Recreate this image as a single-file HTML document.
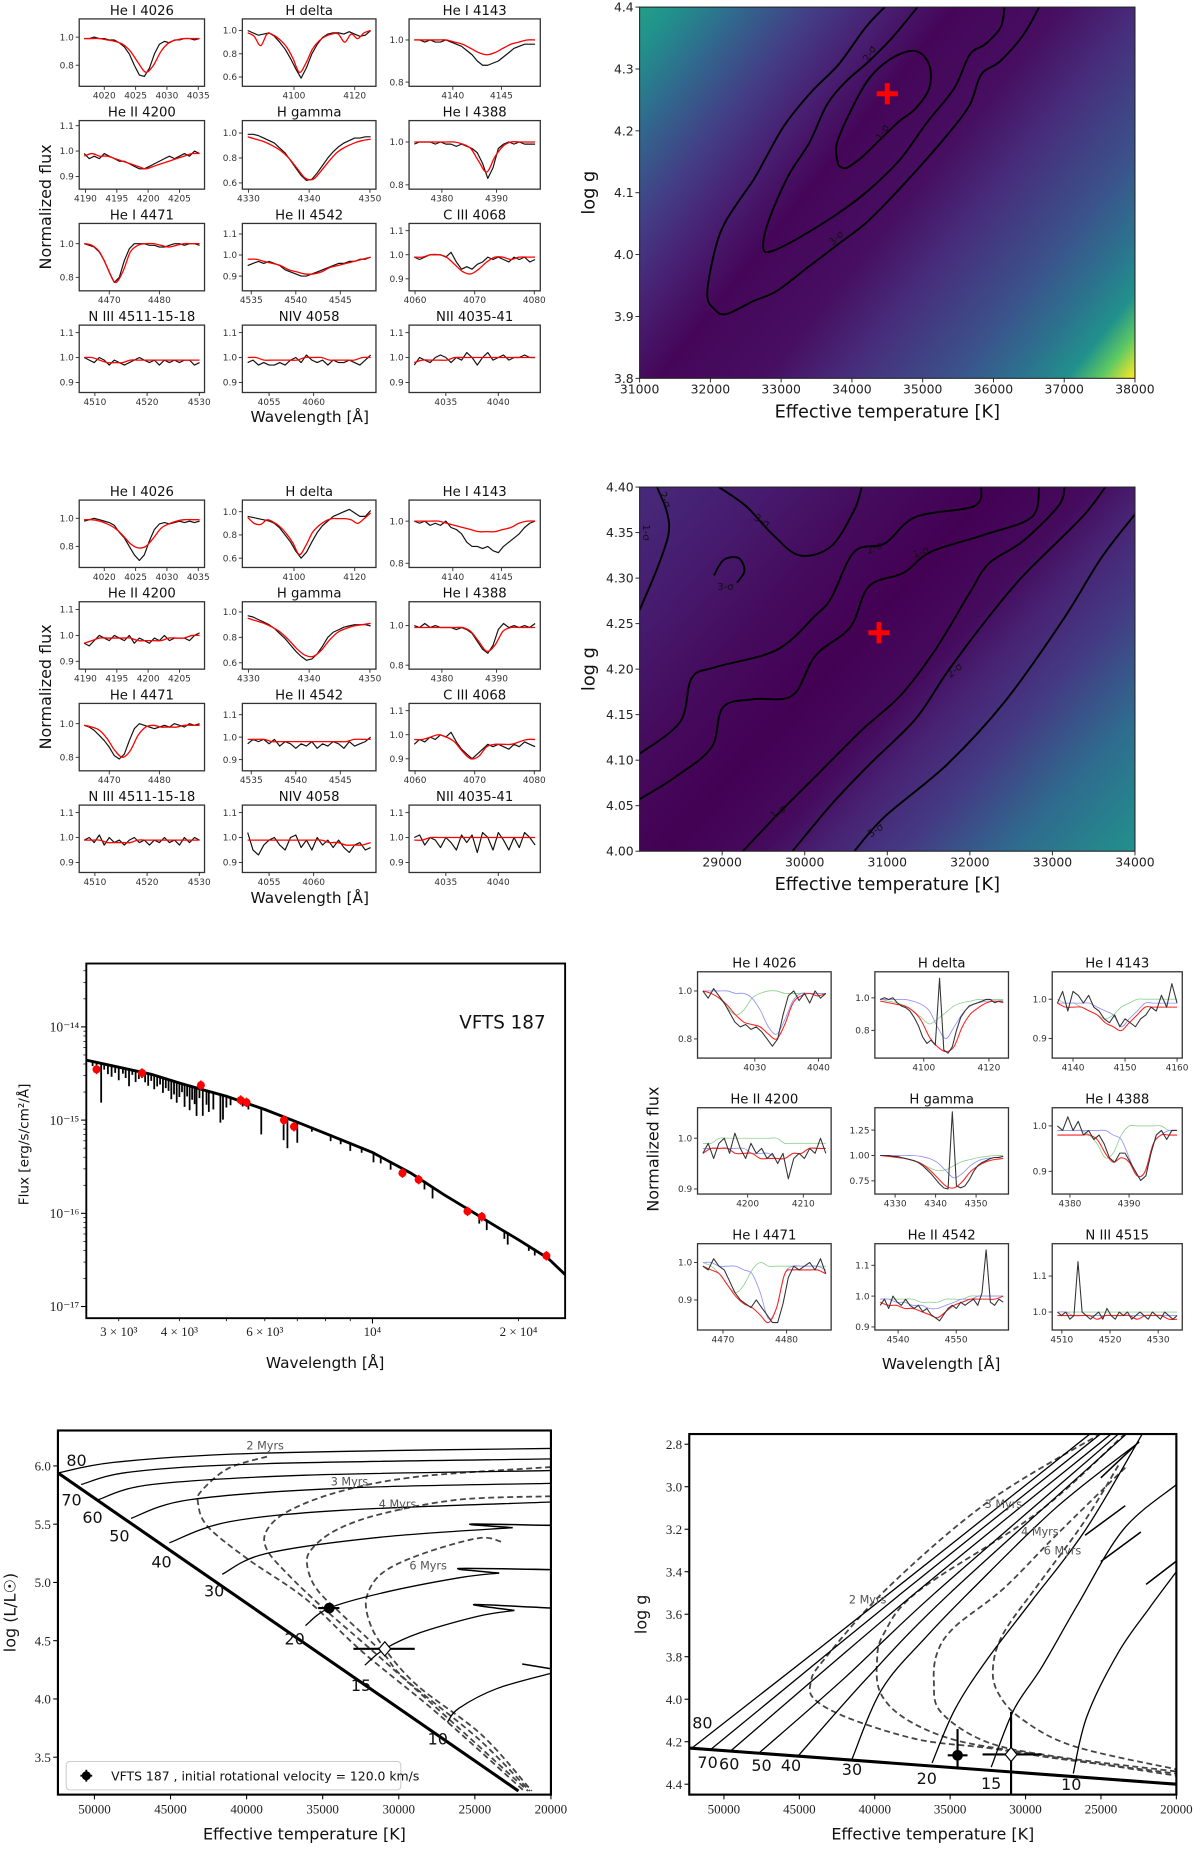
<!DOCTYPE html>
<html><head><meta charset="utf-8"><style>
html,body{margin:0;padding:0;background:#fff;}
svg{display:block;}
text{font-family:"DejaVu Sans","Liberation Sans",sans-serif;}
.serif{font-family:"Liberation Serif","DejaVu Serif",serif;}
</style></head><body>
<svg id="fig" xmlns="http://www.w3.org/2000/svg" width="1200" height="1849" viewBox="0 0 1015 1564" preserveAspectRatio="none">
<defs>
<linearGradient id="hm1" gradientUnits="userSpaceOnUse" x1="520" y1="0" x2="943" y2="339">
<stop offset="0" stop-color="#23a983"/><stop offset="0.08" stop-color="#21918c"/><stop offset="0.16" stop-color="#31688e"/><stop offset="0.25" stop-color="#433e85"/><stop offset="0.33" stop-color="#482173"/><stop offset="0.42" stop-color="#450659"/><stop offset="0.55" stop-color="#470e61"/><stop offset="0.65" stop-color="#472d7b"/><stop offset="0.78" stop-color="#3b528b"/><stop offset="0.86" stop-color="#2c728e"/><stop offset="0.92" stop-color="#21918c"/><stop offset="0.96" stop-color="#5ec962"/><stop offset="1" stop-color="#fde725"/>
</linearGradient>
<linearGradient id="hm2" gradientUnits="userSpaceOnUse" x1="541" y1="412" x2="924" y2="759">
<stop offset="0" stop-color="#472a7a"/><stop offset="0.15" stop-color="#461b6e"/><stop offset="0.3" stop-color="#450a5c"/><stop offset="0.43" stop-color="#440154"/><stop offset="0.55" stop-color="#450b5d"/><stop offset="0.62" stop-color="#482273"/><stop offset="0.72" stop-color="#443a83"/><stop offset="0.85" stop-color="#2f6b8e"/><stop offset="1" stop-color="#21918c"/>
</linearGradient>
</defs>
</svg>
<script>
// ================= DATA =================
const a1Obs=[0.99,0.99,1.0,0.99,0.99,0.98,0.98,0.96,0.93,0.88,0.8,0.73,0.72,0.78,0.88,0.95,0.97,0.96,0.98,0.98,0.99,0.99,0.98,0.99];
const a1Mod=[0.99,0.99,0.99,0.98,0.97,0.95,0.9,0.82,0.75,0.8,0.9,0.96,0.98,0.99,0.99,0.99];
const a2Obs=[1.0,0.98,0.96,0.97,0.98,0.95,0.9,0.84,0.76,0.67,0.59,0.68,0.8,0.88,0.94,0.97,0.98,0.98,0.97,0.99,0.97,0.95,0.96,1.0];
const a2Mod=[0.98,0.95,0.87,0.97,0.96,0.92,0.86,0.76,0.64,0.72,0.84,0.91,0.95,0.97,0.97,0.9,0.97,0.93,0.98,1.0];
const a3Obs=[1.0,1.0,0.99,1.0,0.99,0.99,1.0,0.99,0.98,0.97,0.95,0.93,0.9,0.88,0.88,0.89,0.9,0.92,0.94,0.96,0.97,0.98,0.98,0.98];
const a3Mod=[1.0,1.0,1.0,1.0,1.0,0.99,0.98,0.96,0.94,0.93,0.94,0.96,0.98,0.99,1.0,1.0];
const a4Obs=[0.99,0.97,0.98,0.97,0.99,0.98,0.97,0.96,0.96,0.95,0.94,0.93,0.93,0.94,0.95,0.96,0.97,0.98,0.97,0.98,0.99,0.98,1.0,0.99];
const a4Mod=[0.98,0.99,0.98,0.98,0.97,0.96,0.95,0.94,0.93,0.94,0.95,0.96,0.97,0.98,0.99,0.99];
const a5Obs=[0.99,0.99,0.98,0.96,0.94,0.92,0.88,0.84,0.78,0.72,0.66,0.62,0.63,0.68,0.74,0.8,0.85,0.89,0.92,0.94,0.96,0.96,0.97,0.97];
const a5Mod=[0.97,0.95,0.93,0.9,0.86,0.8,0.72,0.64,0.63,0.7,0.78,0.85,0.89,0.92,0.94,0.95];
const a6Obs=[0.99,1.0,1.0,1.0,0.99,1.0,0.99,0.99,0.98,0.99,0.98,0.97,0.95,0.9,0.83,0.88,0.97,0.99,1.0,0.99,1.0,0.99,0.99,0.99];
const a6Mod=[1.0,1.0,1.0,1.0,1.0,1.0,0.99,0.97,0.91,0.86,0.93,0.98,1.0,1.0,1.0,1.0];
const a7Obs=[1.0,0.99,0.98,0.95,0.9,0.83,0.77,0.8,0.9,0.97,1.0,1.0,1.0,0.99,0.99,0.98,0.98,0.99,1.0,1.0,0.99,1.0,1.0,0.99];
const a7Mod=[1.0,0.99,0.95,0.86,0.77,0.83,0.95,0.99,1.0,1.0,0.99,0.98,0.99,1.0,1.0,1.0];
const a8Obs=[0.95,0.96,0.97,0.96,0.97,0.96,0.95,0.93,0.92,0.91,0.9,0.9,0.91,0.92,0.93,0.94,0.95,0.96,0.96,0.97,0.97,0.98,0.98,0.99];
const a8Mod=[0.98,0.98,0.97,0.96,0.95,0.93,0.92,0.91,0.91,0.92,0.94,0.95,0.96,0.97,0.98,0.99];
const a9Obs=[0.99,0.98,0.99,1.0,1.0,1.0,0.99,1.01,0.97,0.94,0.95,0.94,0.96,0.97,0.99,0.98,0.99,0.98,0.97,0.99,0.98,0.99,0.97,0.98];
const a9Mod=[0.99,0.99,1.0,1.0,0.99,0.96,0.93,0.92,0.94,0.97,0.99,0.99,0.98,0.99,0.99,0.99];
const a10Obs=[1.0,0.99,0.98,1.0,0.99,0.97,0.99,0.98,0.97,0.98,0.99,1.0,0.99,0.98,0.99,0.97,0.99,0.98,0.99,0.98,0.99,0.99,0.97,0.98];
const a10Mod=[1.0,1.0,0.99,0.98,0.98,0.98,0.99,0.99,0.99,0.99,0.99,0.99,0.99,0.99,0.99,0.99];
const a11Obs=[0.98,0.99,0.97,0.98,0.97,0.97,0.98,0.97,0.99,1.0,0.98,1.01,0.99,0.98,0.99,0.97,0.99,0.98,0.98,0.99,0.98,0.97,0.99,1.01];
const a11Mod=[1.0,1.0,0.99,0.99,0.99,0.99,0.99,1.0,1.0,1.0,0.99,0.99,0.99,0.99,1.0,1.0];
const a12Obs=[0.97,1.0,0.99,0.98,1.0,1.01,1.0,0.98,1.0,0.99,1.02,1.0,0.97,1.0,1.02,0.99,1.0,1.01,0.99,1.0,1.0,1.01,1.0,1.0];
const a12Mod=[0.98,0.99,0.99,0.99,0.99,1.0,1.0,1.0,1.0,1.0,1.0,1.0,1.0,1.0,1.0,1.0];
const c1Obs=[0.98,0.99,1.0,0.99,0.98,0.97,0.95,0.9,0.86,0.8,0.74,0.7,0.74,0.84,0.92,0.96,0.97,0.96,0.97,0.98,0.97,0.98,0.97,0.98];
const c1Mod=[0.99,0.99,0.98,0.96,0.93,0.88,0.82,0.79,0.8,0.86,0.93,0.96,0.98,0.99,0.99,0.99];
const c2Obs=[0.96,0.95,0.94,0.93,0.92,0.9,0.86,0.8,0.74,0.66,0.6,0.65,0.74,0.82,0.88,0.92,0.96,0.98,1.0,1.02,0.99,0.96,0.96,1.01];
const c2Mod=[0.95,0.9,0.89,0.93,0.91,0.87,0.81,0.73,0.63,0.71,0.82,0.88,0.92,0.94,0.94,0.94,0.93,0.9,0.94,0.99];
const c3Obs=[1.0,0.99,1.0,0.98,0.99,0.98,1.0,0.97,0.96,0.94,0.9,0.88,0.88,0.87,0.88,0.86,0.85,0.88,0.9,0.92,0.94,0.97,0.99,1.0];
const c3Mod=[1.0,1.0,1.0,1.0,0.99,0.98,0.97,0.96,0.95,0.95,0.95,0.96,0.97,0.99,1.0,1.0];
const c4Obs=[0.97,0.96,0.98,1.0,0.99,0.98,1.0,0.99,0.98,1.0,0.97,0.99,0.98,0.97,0.99,0.98,1.0,0.98,0.99,0.99,0.99,0.98,1.0,1.01];
const c4Mod=[0.97,0.98,0.99,0.99,0.99,0.99,0.99,0.98,0.98,0.98,0.98,0.99,0.99,0.99,1.0,1.0];
const c5Obs=[0.97,0.96,0.94,0.92,0.9,0.87,0.83,0.79,0.74,0.69,0.65,0.62,0.63,0.67,0.73,0.8,0.84,0.86,0.88,0.89,0.9,0.9,0.9,0.89];
const c5Mod=[0.95,0.93,0.91,0.88,0.84,0.78,0.71,0.66,0.65,0.7,0.78,0.84,0.87,0.89,0.9,0.91];
const c6Obs=[1.0,0.99,1.01,0.99,1.0,0.99,0.99,0.99,0.98,0.99,0.98,0.96,0.92,0.88,0.86,0.9,0.98,1.01,0.99,1.0,0.99,1.0,0.99,1.01];
const c6Mod=[0.99,0.99,0.99,0.99,0.99,0.99,0.99,0.97,0.92,0.87,0.9,0.97,0.99,0.99,0.99,0.99];
const c7Obs=[0.99,0.98,0.96,0.93,0.9,0.86,0.81,0.79,0.82,0.9,0.97,1.0,0.99,0.98,0.97,0.98,0.99,0.98,1.0,0.99,0.98,1.0,0.99,1.0];
const c7Mod=[0.99,0.98,0.96,0.91,0.84,0.8,0.84,0.93,0.98,0.99,0.98,0.98,0.98,0.99,0.99,0.99];
const c8Obs=[0.97,0.99,0.98,0.99,0.97,0.99,0.96,0.98,0.97,0.95,0.97,0.96,0.98,0.95,0.97,0.96,0.98,0.97,0.95,0.98,0.96,0.97,0.98,1.0];
const c8Mod=[0.99,0.99,0.99,0.98,0.98,0.98,0.98,0.98,0.98,0.98,0.98,0.98,0.98,0.99,0.99,0.99];
const c9Obs=[0.96,0.98,0.97,0.99,0.98,1.0,0.99,1.01,0.97,0.94,0.92,0.9,0.92,0.94,0.96,0.95,0.96,0.95,0.94,0.96,0.95,0.97,0.96,0.95];
const c9Mod=[0.98,0.98,0.99,1.0,0.99,0.97,0.93,0.9,0.91,0.95,0.96,0.96,0.96,0.97,0.98,0.98];
const c10Obs=[0.99,1.0,0.98,1.01,0.97,1.0,0.98,0.99,0.97,0.99,1.0,0.98,0.99,0.97,0.99,0.98,1.0,0.98,0.99,0.97,1.0,0.98,1.0,0.99];
const c10Mod=[0.99,0.99,0.99,0.98,0.98,0.98,0.98,0.99,0.99,0.99,0.99,0.99,0.99,0.99,0.99,0.99];
const c11Obs=[1.02,0.95,0.93,0.97,0.99,1.0,0.97,0.95,1.0,1.01,0.96,0.99,0.95,1.0,0.97,0.99,0.96,0.99,0.96,0.94,0.97,0.98,0.95,0.96];
const c11Mod=[0.99,0.99,0.99,0.99,0.99,0.99,0.99,0.99,0.99,0.99,0.98,0.98,0.97,0.97,0.97,0.98];
const c12Obs=[1.0,1.01,0.97,1.0,0.99,0.96,1.0,0.98,0.95,1.01,0.98,1.01,0.94,1.02,1.0,0.95,1.02,0.99,0.95,1.0,0.96,1.02,1.0,0.97];
const c12Mod=[0.99,0.99,1.0,1.0,1.0,1.0,1.0,1.0,1.0,1.0,1.0,1.0,1.0,1.0,1.0,1.0];
const f1Obs=[1.0,0.97,1.01,0.98,0.95,0.91,0.87,0.85,0.86,0.84,0.85,0.83,0.8,0.77,0.8,0.9,0.98,1.0,0.96,0.99,0.95,1.0,0.97,0.99];
const f1Red=[1.0,0.99,0.97,0.94,0.9,0.87,0.86,0.85,0.82,0.8,0.86,0.95,0.98,0.99,0.98,0.99];
const f1Blue=[1.0,1.0,1.0,1.0,0.99,0.99,0.97,0.92,0.85,0.82,0.88,0.96,0.99,0.99,0.99,0.99];
const f1Green=[1.0,0.99,0.97,0.93,0.9,0.92,0.97,0.99,1.0,1.0,0.99,0.99,0.99,0.99,0.99,0.99];
const f2Obs=[0.99,1.0,0.99,1.0,0.97,0.95,0.94,0.92,0.88,0.83,0.76,0.72,0.74,0.71,1.12,0.68,0.66,0.7,0.8,0.88,0.92,0.95,0.96,0.97,0.98,0.99,0.99,0.97,0.98,0.98];
const f2Red=[0.98,0.97,0.96,0.95,0.92,0.86,0.76,0.7,0.67,0.7,0.82,0.9,0.94,0.97,0.98,0.97];
const f2Blue=[0.99,0.99,0.99,0.99,0.98,0.96,0.92,0.82,0.75,0.82,0.9,0.95,0.97,0.98,0.98,0.98];
const f2Green=[0.99,0.98,0.97,0.95,0.92,0.88,0.84,0.87,0.91,0.95,0.97,0.98,0.99,0.99,0.99,0.99];
const f3Obs=[0.99,1.02,0.97,1.02,1.01,0.99,1.01,0.98,0.97,0.95,0.94,0.96,0.93,0.95,0.94,0.93,0.95,0.96,0.98,0.97,1.01,0.98,1.04,0.99];
const f3Red=[0.99,0.98,0.98,0.98,0.97,0.96,0.94,0.93,0.92,0.94,0.96,0.98,0.98,0.98,0.98,0.98];
const f3Blue=[0.99,0.99,0.99,0.99,0.99,0.98,0.97,0.96,0.93,0.95,0.97,0.99,0.99,0.99,0.99,0.99];
const f3Green=[1.0,0.99,0.99,0.98,0.97,0.96,0.95,0.96,0.98,0.99,1.0,1.0,1.0,1.0,1.0,1.0];
const f4Obs=[0.97,0.99,0.96,0.99,1.0,0.97,1.01,0.98,0.96,0.99,0.97,0.98,0.96,0.97,0.95,0.97,0.92,0.96,0.97,0.96,0.98,0.97,1.0,0.97];
const f4Red=[0.97,0.98,0.98,0.98,0.97,0.97,0.97,0.96,0.96,0.96,0.96,0.97,0.97,0.98,0.98,0.98];
const f4Blue=[0.98,0.98,0.98,0.98,0.98,0.98,0.97,0.97,0.97,0.96,0.96,0.97,0.97,0.98,0.98,0.98];
const f4Green=[0.99,0.99,1.0,1.0,1.0,1.0,1.0,1.0,1.0,1.0,0.99,0.99,0.99,0.99,0.99,0.99];
const f5Obs=[1.0,1.0,1.0,0.99,0.99,0.98,0.97,0.96,0.95,0.93,0.9,0.86,0.82,0.77,0.72,0.68,0.67,1.43,0.7,0.68,0.7,0.76,0.84,0.9,0.93,0.95,0.97,0.98,0.98,0.99];
const f5Red=[1.0,0.99,0.98,0.97,0.95,0.92,0.86,0.78,0.7,0.68,0.74,0.84,0.9,0.94,0.96,0.97];
const f5Blue=[1.0,1.0,1.0,1.0,1.0,0.99,0.97,0.93,0.85,0.78,0.82,0.9,0.95,0.97,0.98,0.99];
const f5Green=[1.0,1.0,0.99,0.97,0.95,0.92,0.88,0.85,0.86,0.9,0.94,0.96,0.98,0.99,1.0,1.0];
const f6Obs=[1.0,0.99,1.02,0.99,1.01,0.98,0.99,0.97,0.98,0.96,0.93,0.92,0.94,0.94,0.92,0.9,0.88,0.89,0.94,0.98,0.99,0.97,0.99,0.99];
const f6Red=[0.98,0.98,0.98,0.98,0.98,0.97,0.94,0.92,0.93,0.92,0.89,0.9,0.96,0.98,0.98,0.98];
const f6Blue=[0.99,0.99,0.99,0.99,0.99,0.99,0.99,0.98,0.97,0.93,0.89,0.9,0.96,0.98,0.99,0.99];
const f6Green=[0.99,0.99,0.99,0.99,0.98,0.96,0.93,0.94,0.98,1.0,1.0,1.0,1.0,1.0,0.99,0.99];
const f7Obs=[0.99,0.98,1.01,0.99,0.98,0.95,0.92,0.9,0.89,0.88,0.9,0.88,0.86,0.84,0.84,0.89,0.96,0.99,0.98,0.99,1.0,0.98,1.01,0.97];
const f7Red=[0.99,0.98,0.97,0.94,0.91,0.89,0.88,0.86,0.84,0.88,0.97,0.98,0.98,0.98,0.98,0.97];
const f7Blue=[1.0,1.0,0.99,0.99,0.99,0.98,0.97,0.92,0.85,0.88,0.97,0.99,0.99,0.99,0.99,0.98];
const f7Green=[1.0,0.99,0.97,0.94,0.92,0.94,0.98,1.0,0.99,0.99,0.99,0.99,0.99,0.99,0.99,0.99];
const f8Obs=[0.97,0.99,0.96,1.0,0.98,0.97,0.99,0.97,0.96,0.97,0.95,0.96,0.94,0.93,0.92,0.94,0.96,0.97,0.96,0.98,0.97,0.98,0.99,0.97,1.01,1.15,0.98,0.97,0.99,0.98];
const f8Red=[0.98,0.97,0.97,0.96,0.96,0.95,0.94,0.93,0.95,0.97,0.98,0.99,0.99,0.99,0.99,1.0];
const f8Blue=[0.99,0.99,0.98,0.98,0.97,0.97,0.96,0.96,0.97,0.98,0.99,0.99,1.0,1.0,1.0,1.0];
const f8Green=[0.99,0.99,0.99,0.99,0.99,0.98,0.98,0.98,0.99,0.99,0.99,1.0,1.0,1.0,1.0,1.0];
const f9Obs=[1.0,0.99,1.0,0.98,0.99,1.14,1.0,0.99,0.98,0.99,1.0,0.98,1.01,0.99,0.98,1.0,0.99,1.0,0.98,0.99,1.0,0.99,0.98,1.0,0.99,0.98,1.0,0.99,0.98,0.99];
const f9Red=[0.99,0.99,0.99,0.99,0.99,0.98,0.99,0.99,0.99,0.99,0.98,0.99,0.99,0.99,0.98,0.98];
const f9Blue=[1.0,1.0,0.99,0.99,0.99,0.99,0.99,0.99,0.99,0.99,0.99,0.99,0.99,0.99,0.99,0.99];
const f9Green=[1.0,1.0,1.0,1.0,1.0,1.0,1.0,1.0,1.0,1.0,1.0,1.0,1.0,1.0,1.0,1.0];

const hm1Sigma1=[[33810,4.144],[33782,4.177],[33973,4.23],[34246,4.285],[34573,4.318],[34900,4.329],[35092,4.307],[35092,4.269],[34900,4.236],[34655,4.214],[34355,4.181],[34137,4.157],[33919,4.14],[33810,4.144]];
const hm1Sigma2=[[34928,4.4],[34573,4.351],[34246,4.313],[33919,4.28],[33646,4.242],[33400,4.181],[33100,4.127],[32828,4.056],[32746,4.012],[32855,4.005],[33264,4.028],[33810,4.067],[34246,4.105],[34683,4.154],[35064,4.214],[35446,4.269],[35665,4.323],[35883,4.34],[36101,4.367],[36156,4.4]];
const hm1Sigma3=[[34464,4.4],[34192,4.367],[33810,4.307],[33428,4.263],[33046,4.209],[32773,4.154],[32610,4.121],[32228,4.056],[32064,4.007],[31955,3.936],[32064,3.911],[32228,3.904],[32610,3.925],[32937,3.941],[33373,3.979],[33810,4.017],[34246,4.056],[34792,4.121],[35337,4.192],[35665,4.242],[35828,4.291],[36101,4.313],[36428,4.356],[36646,4.4]];
const hm1Best=[34500,4.26];
const hm2LineA=[[28000,4.265],[28210,4.31],[28350,4.348],[28330,4.373],[28210,4.4]];
const hm2LineB=[[28960,4.4],[29290,4.379],[29610,4.348],[29940,4.325],[30320,4.335],[30600,4.375],[30690,4.4]];
const hm2LineC=[[28000,4.107],[28490,4.142],[28630,4.19],[28910,4.202],[29660,4.221],[30130,4.259],[30320,4.278],[30600,4.329],[30970,4.338],[31340,4.367],[32050,4.379],[32140,4.4]];
const hm2LineD=[[28000,4.057],[28440,4.082],[28870,4.114],[29010,4.158],[29380,4.167],[29850,4.171],[30130,4.215],[30550,4.246],[30780,4.291],[31200,4.306],[31530,4.329],[32190,4.348],[32750,4.367],[32840,4.4]];
const hm2LineE=[[29250,4.0],[29710,4.044],[30130,4.082],[30690,4.133],[31160,4.171],[31580,4.221],[32000,4.284],[32230,4.316],[32650,4.341],[33070,4.379],[33150,4.4]];
const hm2LineF=[[29850,4.0],[30320,4.051],[30780,4.095],[31340,4.145],[31720,4.196],[32190,4.253],[32650,4.303],[33360,4.367],[33640,4.4]];
const hm2LineG=[[30600,4.0],[30970,4.038],[31720,4.095],[32420,4.164],[33120,4.253],[33590,4.322],[34000,4.37]];
const hm2Small=[[28900,4.303],[29020,4.32],[29200,4.322],[29270,4.308],[29180,4.295]];
const hm2Best=[30900,4.24];

const sedContW=[2572,3000,3500,4000,4500,5000,6000,7000,8000,10000,12000,14000,16000,18000,20000,23000,24950];
const sedContF=[4.4e-15,3.7e-15,3.1e-15,2.5e-15,2.1e-15,1.8e-15,1.3e-15,9.5e-16,7.2e-16,4.5e-16,2.7e-16,1.6e-16,1.05e-16,7.2e-17,5.2e-17,3.3e-17,2.2e-17];
const sedLineW=[2650,2700,2760,2800,2850,2900,2950,3000,3060,3100,3150,3200,3250,3300,3350,3400,3450,3500,3550,3600,3650,3700,3750,3800,3850,3900,3950,4000,4050,4100,4150,4200,4250,4300,4340,4400,4470,4550,4600,4700,4860,4920,5000,5100,5400,5550,5900,6560,6680,7000,7500,8200,8600,9000,9500,10050,10400,10900,11500,12800,13300,16600,17200,18700,19000,21000,21600];
const sedLineD=[0.05,0.08,0.42,0.06,0.1,0.12,0.07,0.14,0.06,0.1,0.18,0.05,0.12,0.08,0.06,0.1,0.13,0.07,0.15,0.11,0.08,0.16,0.1,0.12,0.2,0.14,0.22,0.15,0.09,0.24,0.12,0.26,0.14,0.18,0.3,0.1,0.28,0.15,0.22,0.18,0.3,0.26,0.12,0.08,0.05,0.06,0.28,0.25,0.32,0.22,0.04,0.06,0.05,0.08,0.05,0.1,0.07,0.08,0.05,0.08,0.12,0.08,0.1,0.08,0.12,0.05,0.06];
const sedPtW=[2700,3350,4430,5350,5500,6570,6890,11530,12450,15700,16800,22830];
const sedPtF=[3.5e-15,3.2e-15,2.37e-15,1.64e-15,1.55e-15,1.0e-15,8.5e-16,2.7e-16,2.3e-16,1.05e-16,9.2e-17,3.5e-17];

const hrZams=[[52400,5.94],[22140,3.21]];
const hrTrackMass=[80,70,60,50,40,30,20,15,10];
const hrTracks=[
 [[52400,5.94],[48740,6.03],[41180,6.1],[31090,6.13],[20000,6.15]],
 [[50880,5.84],[47480,5.95],[38660,6.02],[20000,6.06]],
 [[49750,5.71],[46220,5.84],[36130,5.92],[20000,5.96]],
 [[47600,5.55],[43700,5.71],[33610,5.81],[20000,5.85]],
 [[45080,5.34],[41180,5.52],[33610,5.62],[20000,5.69]],
 [[41600,5.07],[38660,5.25],[31090,5.39],[22520,5.47]],
 [[36130,4.63],[34570,4.78],[31090,4.91],[26050,5.04],[23400,5.08]],
 [[32230,4.29],[30920,4.43],[28570,4.57],[24790,4.71],[22400,4.76]],
 [[26810,3.8],[26050,3.92],[23530,4.09],[20000,4.22]]];
const hrHooks=[[[22520,5.47],[25290,5.5],[20000,5.49]],[[23400,5.08],[26050,5.12],[20000,5.11]],[[22400,4.76],[25040,4.81],[20000,4.78]],[[20000,4.26],[21890,4.3]]];
const hrIsoNames=['2 Myrs','3 Myrs','4 Myrs','6 Myrs'];
const hrIsos=[
 [[38660,6.08],[41180,5.98],[42940,5.79],[43190,5.68],[42560,5.48],[39920,5.2],[36130,4.86],[32350,4.4],[27310,3.86],[21760,3.21]],
 [[20000,5.99],[28570,5.91],[33610,5.79],[37140,5.62],[38660,5.45],[38660,5.28],[37140,5.05],[34870,4.77],[31090,4.34],[26050,3.75],[21510,3.21]],
 [[20000,5.74],[26050,5.71],[31090,5.59],[34120,5.45],[35760,5.28],[36010,5.14],[35380,4.94],[33610,4.71],[31090,4.4],[29580,4.17],[24790,3.66],[21390,3.21]],
 [[23280,5.35],[24790,5.38],[28570,5.24],[31090,5.08],[32100,4.88],[31970,4.68],[31090,4.46],[28820,4.12],[24540,3.69],[21260,3.21]]];
const hrIsoLabel=[[38780,6.14],[33240,5.83],[30080,5.64],[28070,5.11]];
const hrMassLabel=[[51180,6.05],[51510,5.71],[50130,5.56],[48360,5.40],[45590,5.18],[42130,4.93],[36840,4.52],[32480,4.12],[27440,3.66]];
const hrStarT=[34570,30920];
const hrStarL=[4.78,4.43];
const hrStarTerr=[[35300,33900],[32980,28950]];

const kgZams=[[52300,4.23],[20000,4.40]];
const kgTracks=[
 [[52120,4.23],[39000,3.5],[25700,2.75]],
 [[50850,4.235],[38200,3.5],[25000,2.75]],
 [[49580,4.245],[37300,3.5],[24300,2.75]],
 [[47620,4.25],[42000,3.9],[36000,3.5],[23800,2.75]],
 [[45080,4.267],[40500,3.9],[35000,3.5],[23280,2.75]],
 [[41500,4.28],[39500,3.95],[36500,3.7],[33780,3.5],[28000,3.1],[22470,2.79]],
 [[36200,4.3],[34700,4.05],[32620,3.82],[29620,3.54],[26000,3.2],[22240,2.75]],
 [[32280,4.32],[30780,4.05],[28930,3.85],[26500,3.55],[23500,3.2],[20000,2.99]],
 [[26840,4.35],[25930,4.08],[23850,3.78],[21780,3.57],[20000,3.4]]];
const kgHooks=[[[25010,2.958],[22470,2.788]],[[26050,3.228],[23390,3.089]],[[25010,3.352],[22350,3.213]],[[22010,3.46],[20000,3.35]]];
const kgIsos=[
 [[25000,2.75],[32470,3.07],[39200,3.48],[43440,3.82],[44230,3.92],[44000,4.0],[41690,4.09],[37080,4.19],[32470,4.23],[27850,4.28],[20000,4.35]],
 [[23390,2.75],[29160,3.12],[37080,3.49],[39390,3.69],[39850,3.82],[39620,3.97],[38000,4.09],[34780,4.19],[30160,4.25],[25540,4.3],[20000,4.36]],
 [[23390,2.91],[28000,3.23],[31470,3.48],[34700,3.66],[35850,3.78],[36080,3.92],[35620,4.06],[32620,4.2],[28000,4.27],[20000,4.34]],
 [[23850,2.9],[26160,3.17],[29160,3.46],[31470,3.69],[32160,3.85],[31820,3.97],[30310,4.09],[26850,4.22],[20000,4.33]]];
const kgIsoLabel=[[40470,3.55],[31470,3.1],[29050,3.23],[27550,3.32]];
const kgMassLabel=[[51430,4.109],[51085,4.295],[49650,4.303],[47510,4.31],[45550,4.31],[41510,4.329],[36550,4.372],[32280,4.395],[26970,4.4]];
const kgStarT=[34510,30960];
const kgStarG=[4.264,4.26];
const kgStarTerr=[[35160,33850],[32850,28930]];
const kgStarGerr=[[4.14,4.33],[4.06,4.46]];

// ================= DRAW =================
const NS='http://www.w3.org/2000/svg';
const svg=document.getElementById('fig');
function mk(tag,parent,a){const e=document.createElementNS(NS,tag);if(a){for(const k in a)e.setAttribute(k,a[k]);}parent.appendChild(e);return e;}
function lin(d0,d1,r0,r1){return v=>r0+(v-d0)/(d1-d0)*(r1-r0);}
function smooth(p){
 if(p.length<3)return 'M'+p.map(q=>q[0].toFixed(1)+','+q[1].toFixed(1)).join('L');
 let d='M'+p[0][0].toFixed(1)+','+p[0][1].toFixed(1);
 for(let i=0;i<p.length-1;i++){
  const p0=p[i-1]||p[i],p1=p[i],p2=p[i+1],p3=p[i+2]||p2;
  const c1=[p1[0]+(p2[0]-p0[0])/6,p1[1]+(p2[1]-p0[1])/6],c2=[p2[0]-(p3[0]-p1[0])/6,p2[1]-(p3[1]-p1[1])/6];
  d+='C'+c1[0].toFixed(1)+','+c1[1].toFixed(1)+' '+c2[0].toFixed(1)+','+c2[1].toFixed(1)+' '+p2[0].toFixed(1)+','+p2[1].toFixed(1);
 }
 return d;
}
function txt(parent,x,y,s,size,anchor,cls,fill){
 const t=mk('text',parent,{x:x,y:y,'font-size':size,'text-anchor':anchor||'middle',fill:fill||'#111'});
 if(cls)t.setAttribute('class',cls);
 t.textContent=s;return t;
}
let clipN=0;
function clipFor(x0,y0,x1,y1){
 const c=mk('clipPath',svg,{id:'cp'+(++clipN)});
 mk('rect',c,{x:x0,y:y0,width:x1-x0,height:y1-y0});
 return 'url(#cp'+clipN+')';
}

function specPlot(name,box,t,xd,yd,xt,yt,ydec,series){
 const [x0,y0,x1,y1]=box;
 const g=mk('g',svg);
 
 
 const sx=lin(xd[0],xd[1],x0,x1), sy=lin(yd[0],yd[1],y1,y0);
 const pad=(xd[1]-xd[0])*0.04;
 const cg=mk('g',g,{'clip-path':clipFor(x0,y0,x1,y1)});
 series.forEach(s=>{
  const n=s.v.length, a=xd[0]+pad, b=xd[1]-pad;
  const pts=s.v.map((v,i)=>[sx(a+(b-a)*i/(n-1)),sy(v)]);
  const p=mk('path',cg,{d:s.smooth?smooth(pts):'M'+pts.map(q=>q[0].toFixed(1)+','+q[1].toFixed(1)).join('L'),fill:'none',stroke:s.c,'stroke-width':s.w,'stroke-linejoin':'round'});
  
  
 });
 mk('rect',g,{x:x0,y:y0,width:x1-x0,height:y1-y0,fill:'none',stroke:'#333','stroke-width':1.1});
 xt.forEach(v=>{const X=sx(v);mk('line',g,{x1:X,x2:X,y1:y1,y2:y1+3,stroke:'#333','stroke-width':0.8});txt(g,X,y1+10.5,String(v),7.6,'middle',null,'#333');});
 yt.forEach(v=>{const Y=sy(v);mk('line',g,{x1:x0-3,x2:x0,y1:Y,y2:Y,stroke:'#333','stroke-width':0.8});txt(g,x0-4.5,Y+2.7,v.toFixed(ydec),7.6,'end',null,'#333');});
 const tt=txt(g,(x0+x1)/2,y0-3.5,t,11.2,'middle',null,'#111');
 
 
}
function gridLabels(yx,yy,xx,xy,name){
 const a=txt(svg,0,0,'Normalized flux',13.5,'middle');
 a.setAttribute('transform','translate('+yx+','+yy+') rotate(-90)');
 
 
 const b=txt(svg,xx,xy,'Wavelength [Å]',13,'middle');
 
 
}
const colsA=[[67,173],[205,318],[346,457]];
const rowsA=[[16,73],[102,160],[189,246],[275,332]];
const rowsC=[[423,480],[509,566],[595,652],[681,738]];
const titles=['He I 4026','H delta','He I 4143','He II 4200','H gamma','He I 4388','He I 4471','He II 4542','C III 4068','N III 4511-15-18','NIV 4058','NII 4035-41'];
const xdA=[[4016,4036],[4083,4127],[4135.5,4149],[4189,4209],[4329,4351],[4374,4398],[4464,4489],[4534,4549],[4059,4081],[4507,4531],[4052,4067],[4031.5,4044]];
const xtA=[[4020,4025,4030,4035],[4100,4120],[4140,4145],[4190,4195,4200,4205],[4330,4340,4350],[4380,4390],[4470,4480],[4535,4540,4545],[4060,4070,4080],[4510,4520,4530],[4055,4060],[4035,4040]];
const ydA=[[0.65,1.13],[0.52,1.1],[0.78,1.1],[0.85,1.12],[0.55,1.1],[0.78,1.1],[0.72,1.12],[0.83,1.15],[0.85,1.13],[0.86,1.13],[0.86,1.13],[0.86,1.13]];
const ytA=[[0.8,1.0],[0.6,0.8,1.0],[0.8,1.0],[0.9,1.0,1.1],[0.6,0.8,1.0],[0.8,1.0],[0.8,1.0],[0.9,1.0,1.1],[0.9,1.0,1.1],[0.9,1.0,1.1],[0.9,1.0,1.1],[0.9,1.0,1.1]];
const ydC=[[0.65,1.13],[0.52,1.1],[0.78,1.1],[0.87,1.13],[0.55,1.08],[0.78,1.12],[0.72,1.12],[0.85,1.15],[0.85,1.13],[0.86,1.13],[0.86,1.13],[0.86,1.13]];
const ytC=[[0.8,1.0],[0.6,0.8,1.0],[0.8,1.0],[0.9,1.0,1.1],[0.6,0.8,1.0],[0.8,1.0],[0.8,1.0],[0.9,1.0,1.1],[0.9,1.0,1.1],[0.9,1.0,1.1],[0.9,1.0,1.1],[0.9,1.0,1.1]];
const obsA=[a1Obs,a2Obs,a3Obs,a4Obs,a5Obs,a6Obs,a7Obs,a8Obs,a9Obs,a10Obs,a11Obs,a12Obs];
const modA=[a1Mod,a2Mod,a3Mod,a4Mod,a5Mod,a6Mod,a7Mod,a8Mod,a9Mod,a10Mod,a11Mod,a12Mod];
const obsC=[c1Obs,c2Obs,c3Obs,c4Obs,c5Obs,c6Obs,c7Obs,c8Obs,c9Obs,c10Obs,c11Obs,c12Obs];
const modC=[c1Mod,c2Mod,c3Mod,c4Mod,c5Mod,c6Mod,c7Mod,c8Mod,c9Mod,c10Mod,c11Mod,c12Mod];
for(let i=0;i<12;i++){
 const c=colsA[i%3],rA=rowsA[Math.floor(i/3)],rC=rowsC[Math.floor(i/3)];
 specPlot('spectrum-a-'+(i+1),[c[0],rA[0],c[1],rA[1]],titles[i],xdA[i],ydA[i],xtA[i],ytA[i],1,
  [{v:obsA[i],c:'#111',w:1,n:'observed-line'},{v:modA[i],c:'#f00',w:1.1,n:'model-line',smooth:true}]);
 specPlot('spectrum-c-'+(i+1),[c[0],rC[0],c[1],rC[1]],titles[i],xdA[i],ydC[i],xtA[i],ytC[i],1,
  [{v:obsC[i],c:'#111',w:1,n:'observed-line'},{v:modC[i],c:'#f00',w:1.1,n:'model-line',smooth:true}]);
}
gridLabels(43,175,262,357,'grid-a');
gridLabels(43,581,262,764,'grid-c');

const colsF=[[590,703],[740,853],[890,1000]];
const rowsF=[[822,895],[937,1010],[1052,1125]];
const titlesF=['He I 4026','H delta','He I 4143','He II 4200','H gamma','He I 4388','He I 4471','He II 4542','N III 4515'];
const xdF=[[4021,4042],[4085,4126],[4136,4161],[4191,4215],[4325,4358],[4377,4399],[4466,4487],[4536,4559],[4508,4535]];
const ydF=[[0.72,1.08],[0.63,1.16],[0.85,1.07],[0.89,1.06],[0.62,1.47],[0.85,1.04],[0.82,1.05],[0.89,1.17],[0.95,1.19]];
const xtF=[[4030,4040],[4100,4120],[4140,4150,4160],[4200,4210],[4330,4340,4350],[4380,4390],[4470,4480],[4540,4550],[4510,4520,4530]];
const ytF=[[0.8,1.0],[0.8,1.0],[0.9,1.0],[0.9,1.0],[0.75,1.0,1.25],[0.9,1.0],[0.9,1.0],[0.9,1.0,1.1],[1.0,1.1]];
const obsF=[f1Obs,f2Obs,f3Obs,f4Obs,f5Obs,f6Obs,f7Obs,f8Obs,f9Obs];
const redF=[f1Red,f2Red,f3Red,f4Red,f5Red,f6Red,f7Red,f8Red,f9Red];
const blueF=[f1Blue,f2Blue,f3Blue,f4Blue,f5Blue,f6Blue,f7Blue,f8Blue,f9Blue];
const greenF=[f1Green,f2Green,f3Green,f4Green,f5Green,f6Green,f7Green,f8Green,f9Green];
for(let i=0;i<9;i++){
 const c=colsF[i%3],r=rowsF[Math.floor(i/3)];
 specPlot('spectrum-f-'+(i+1),[c[0],r[0],c[1],r[1]],titlesF[i],xdF[i],ydF[i],xtF[i],ytF[i],i===4?2:1,
  [{v:greenF[i],c:'#8fd08f',w:0.7,n:'secondary-model-line',smooth:true},{v:blueF[i],c:'#8f8ff5',w:0.7,n:'primary-model-line',smooth:true},{v:redF[i],c:'#f22',w:0.9,n:'composite-model-line',smooth:true},{v:obsF[i],c:'#333',w:0.9,n:'observed-line'}]);
}
gridLabels(557,972,796,1158,'grid-f');

function heatmap(name,box,grad,xd,yd,xt,yt,ydec,contours,labels,best){
 const [x0,y0,x1,y1]=box;
 const g=mk('g',svg);
 
 
 const sx=lin(xd[0],xd[1],x0,x1), sy=lin(yd[0],yd[1],y1,y0);
 const bg=mk('rect',g,{x:x0,y:y0,width:x1-x0,height:y1-y0,fill:'url(#'+grad+')'});
 
 
 const cg=mk('g',g,{'clip-path':clipFor(x0,y0,x1,y1)});
 contours.forEach((c,i)=>{
  const p=mk('path',cg,{d:smooth(c.map(q=>[sx(q[0]),sy(q[1])])),fill:'none',stroke:'#000','stroke-width':1.6});
  
  
 });
 labels.forEach(l=>{
  const X=sx(l[1]),Y=sy(l[2]);
  const t=txt(cg,0,0,l[0],8.5,'middle',null,'#111');
  t.setAttribute('transform','translate('+X.toFixed(1)+','+Y.toFixed(1)+') rotate('+l[3]+')');
  
  
 });
 const bx=sx(best[0]),by=sy(best[1]);
 const cr=mk('path',g,{d:'M'+(bx-9)+','+by+'H'+(bx+9)+'M'+bx+','+(by-9)+'V'+(by+9),stroke:'#ff0000','stroke-width':4.2});
 
 
 mk('rect',g,{x:x0,y:y0,width:x1-x0,height:y1-y0,fill:'none',stroke:'#222','stroke-width':0.9});
 xt.forEach(v=>{const X=sx(v);mk('line',g,{x1:X,x2:X,y1:y1,y2:y1+3.5,stroke:'#222','stroke-width':0.8});txt(g,X,y1+13,String(v),10.5,'middle',null,'#222');});
 yt.forEach(v=>{const Y=sy(v);mk('line',g,{x1:x0-3.5,x2:x0,y1:Y,y2:Y,stroke:'#222','stroke-width':0.8});txt(g,x0-5,Y+3.8,v.toFixed(ydec),10.5,'end',null,'#222');});
 const xl=txt(g,(x0+x1)/2,y1+33,'Effective temperature [K]',15,'middle');
 
 
 const yl=txt(g,0,0,'log g',15,'middle');
 yl.setAttribute('transform','translate('+(x0-38)+','+((y0+y1)/2)+') rotate(-90)');
 
 
}
const hm1Xt=[31000,32000,33000,34000,35000,36000,37000,38000];
const hm1Yt=[3.8,3.9,4.0,4.1,4.2,4.3,4.4];
heatmap('chi2-map-1',[541,6,960,320],'hm1',[31000,38000],[3.8,4.4],hm1Xt,hm1Yt,1,
 [hm1Sigma1,hm1Sigma2,hm1Sigma3],
 [['2-σ',34290,4.322,-60],['1-σ',34470,4.195,-60],['3-σ',33810,4.023,-45]],hm1Best);
const hm2Xt=[29000,30000,31000,32000,33000,34000];
const hm2Yt=[4.0,4.05,4.1,4.15,4.2,4.25,4.3,4.35,4.4];
heatmap('chi2-map-2',[541,412,960,720],'hm2',[28000,34000],[4.0,4.4],hm2Xt,hm2Yt,2,
 [hm2LineA,hm2LineB,hm2LineC,hm2LineD,hm2LineE,hm2LineF,hm2LineG,hm2Small],
 [['3-σ',29460,4.36,30],['3-σ',29040,4.287,0],['2-σ',28270,4.385,70],['1-σ',28040,4.35,90],['2-σ',30860,4.33,-25],['1-σ',31420,4.325,-20],['2-σ',31840,4.196,-40],['1-σ',29700,4.04,-35],['3-σ',30880,4.02,-35]],hm2Best);

(function(){
 const x0=73,y0=815,x1=478,y1=1115;
 const g=mk('g',svg);
 
 
 const lx=lin(Math.log10(2572),Math.log10(24950),x0,x1);
 const ly=lin(-17.125,-13.32,y1,y0);
 const sx=v=>lx(Math.log10(v)), sy=v=>ly(Math.log10(v));
 const cont=w=>{let i=0;while(i<sedContW.length-2&&sedContW[i+1]<w)i++;
  const a=Math.log10(sedContW[i]),b=Math.log10(sedContW[i+1]),t=(Math.log10(w)-a)/(b-a);
  return Math.pow(10,Math.log10(sedContF[i])*(1-t)+Math.log10(sedContF[i+1])*t);};
 const cg=mk('g',g,{'clip-path':clipFor(x0,y0,x1,y1)});
 const cp=mk('path',cg,{d:'M'+sedContW.map(w=>sx(w).toFixed(1)+','+sy(cont(w)).toFixed(1)).join('L'),fill:'none',stroke:'#000','stroke-width':2.4});
 
 
 sedLineW.forEach((w,i)=>{
  const X=sx(w),f=cont(w);
  const l=mk('line',cg,{x1:X,x2:X,y1:sy(f)-1,y2:sy(f)+sedLineD[i]*79,stroke:'#000','stroke-width':1.5});
  
  
 });
 sedPtW.forEach((w,i)=>{
  const X=sx(w),Y=sy(sedPtF[i]);
  mk('line',g,{x1:X,x2:X,y1:Y-4,y2:Y+4,stroke:'#f00','stroke-width':1.3});
  const c=mk('circle',g,{cx:X,cy:Y,r:3.4,fill:'#f00'});
  
  
 });
 mk('rect',g,{x:x0,y:y0,width:x1-x0,height:y1-y0,fill:'none',stroke:'#000','stroke-width':1.6});
 for(let d=2000;d<=20000;d+=(d<10000?1000:10000)){
  if(d<2572)continue;const X=sx(d);mk('line',g,{x1:X,x2:X,y1:y1,y2:y1+2.5,stroke:'#000','stroke-width':0.7});
 }
 mk('line',g,{x1:sx(10000),x2:sx(10000),y1:y1,y2:y1+4.5,stroke:'#000','stroke-width':0.9});
 [[3000,'3 × 10³'],[4000,'4 × 10³'],[6000,'6 × 10³'],[10000,'10⁴'],[20000,'2 × 10⁴']].forEach(t=>txt(g,sx(t[0]),y1+15,t[1],11,'middle','serif','#222'));
 const ylab={'-17':'10⁻¹⁷','-16':'10⁻¹⁶','-15':'10⁻¹⁵','-14':'10⁻¹⁴'};
 for(let e=-17;e<=-14;e++){
  const Y=ly(e);mk('line',g,{x1:x0-4.5,x2:x0,y1:Y,y2:Y,stroke:'#000','stroke-width':0.9});
  txt(g,x0-6,Y+4,ylab[String(e)],11.5,'end','serif','#222');
  for(let m=2;m<10;m++){const Ym=ly(e+Math.log10(m));if(Ym>y0&&Ym<y1)mk('line',g,{x1:x0-2.5,x2:x0,y1:Ym,y2:Ym,stroke:'#000','stroke-width':0.6});}
 }
 const nm=txt(g,425,870,'VFTS 187',15.5,'middle');
 
 
 const xl=txt(g,275,1157,'Wavelength [Å]',13,'middle');
 
 
 const yl=txt(g,0,0,'Flux [erg/s/cm²/Å]',11.5,'middle');
 yl.setAttribute('transform','translate(24,968) rotate(-90)');
 
 
})();

function hrPlot(name,box,xd,yd,yt,ydec,ylabel,zams,tracks,hooks,isos,isoLab,massLab,starT,starY,starTerr,starYerr,legend){
 const [x0,y0,x1,y1]=box;
 const g=mk('g',svg);
 
 
 const sx=lin(xd[0],xd[1],x0,x1), sy=lin(yd[0],yd[1],y1,y0);
 const P=a=>a.map(q=>[sx(q[0]),sy(q[1])]);
 const cg=mk('g',g,{'clip-path':clipFor(x0,y0,x1,y1)});
 isos.forEach((s,i)=>{
  const p=mk('path',cg,{d:smooth(P(s)),fill:'none',stroke:'#444','stroke-width':1.5,'stroke-dasharray':'5,3'});
  
  
 });
 tracks.forEach((s,i)=>{
  const p=mk('path',cg,{d:smooth(P(s)),fill:'none',stroke:'#000','stroke-width':1.1});
  
  
 });
 hooks.forEach(s=>{
  const p=mk('path',cg,{d:smooth(P(s)),fill:'none',stroke:'#000','stroke-width':1.3});
  
  
 });
 const z=mk('path',cg,{d:'M'+P(zams).map(q=>q[0].toFixed(1)+','+q[1].toFixed(1)).join('L'),fill:'none',stroke:'#000','stroke-width':2.6});
 
 
 isoLab.forEach((l,i)=>{const t=txt(cg,sx(l[0]),sy(l[1]),hrIsoNames[i],9.5,'middle',null,'#555');
  
  });
 massLab.forEach((l,i)=>{const t=txt(cg,sx(l[0]),sy(l[1])+5,String(hrTrackMass[i]),13.5,'middle',null,'#111');
  
  });
 starT.forEach((T,i)=>{
  const X=sx(T),Y=sy(starY[i]);
  mk('line',cg,{x1:sx(starTerr[i][0]),x2:sx(starTerr[i][1]),y1:Y,y2:Y,stroke:'#000','stroke-width':1.8});
  if(starYerr)mk('line',cg,{x1:X,x2:X,y1:sy(starYerr[i][0]),y2:sy(starYerr[i][1]),stroke:'#000','stroke-width':1.8});
  let m;
  if(i===0){m=mk('circle',cg,{cx:X,cy:Y,r:4.5,fill:'#000'});}
  else{m=mk('path',cg,{d:'M'+X+','+(Y-6)+'L'+(X+5)+','+Y+'L'+X+','+(Y+6)+'L'+(X-5)+','+Y+'Z',fill:'#fff',stroke:'#000','stroke-width':1});}
  
  
 });
 mk('rect',g,{x:x0,y:y0,width:x1-x0,height:y1-y0,fill:'none',stroke:'#000','stroke-width':1.8});
 [50000,45000,40000,35000,30000,25000,20000].forEach(v=>{const X=sx(v);mk('line',g,{x1:X,x2:X,y1:y1,y2:y1+4,stroke:'#000','stroke-width':0.9});txt(g,X,y1+16,String(v),11,'middle','serif','#222');});
 yt.forEach(v=>{const Y=sy(v);mk('line',g,{x1:x0-4,x2:x0,y1:Y,y2:Y,stroke:'#000','stroke-width':0.9});txt(g,x0-6,Y+4,v.toFixed(ydec),11,'end','serif','#222');});
 const xl=txt(g,(x0+x1)/2,1556,'Effective temperature [K]',13.5,'middle');
 
 
 const yl=txt(g,0,0,ylabel,13.5,'middle');
 yl.setAttribute('transform','translate('+(x0-36)+','+((y0+y1)/2)+') rotate(-90)');
 
 
 if(legend){
  const lg=mk('g',g);
  
  
  mk('rect',lg,{x:x0+7,y:1490,width:283,height:24,rx:3,fill:'#fff',stroke:'#ccc','stroke-width':0.9});
  mk('line',lg,{x1:x0+19,x2:x0+29,y1:1502,y2:1502,stroke:'#000','stroke-width':1.6});
  mk('line',lg,{x1:x0+24,x2:x0+24,y1:1497,y2:1507,stroke:'#000','stroke-width':1.6});
  mk('circle',lg,{cx:x0+24,cy:1502,r:3.8,fill:'#000'});
  const lt=txt(lg,x0+45,1506,'VFTS 187 , initial rotational velocity = 120.0 km/s',10.5,'start',null,'#111');
  
  
 }
}
hrPlot('hr-diagram',[49,1210,466,1518],[52400,20000],[3.179,6.304],[3.5,4.0,4.5,5.0,5.5,6.0],1,'log (L/L☉)',
 hrZams,hrTracks,hrHooks,hrIsos,hrIsoLabel,hrMassLabel,hrStarT,hrStarL,hrStarTerr,null,true);
hrPlot('kiel-diagram',[583,1213,995,1518],[52300,20000],[4.449,2.752],[2.8,3.0,3.2,3.4,3.6,3.8,4.0,4.2,4.4],1,'log g',
 kgZams,kgTracks,kgHooks,kgIsos,kgIsoLabel,kgMassLabel,kgStarT,kgStarG,kgStarTerr,kgStarGerr,false);
</script>
</body></html>
